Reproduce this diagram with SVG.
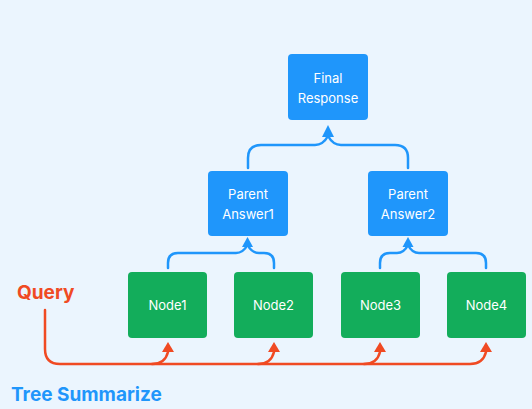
<svg xmlns="http://www.w3.org/2000/svg" width="532" height="409" viewBox="0 0 532 409">
<style>
.bg{fill:#EBF5FE}
.bn{fill:#1F96FB}
.gn{fill:#13AD5B}
.t{font-family:Inter,"Noto Sans",sans-serif;font-size:13px;fill:#fff;text-anchor:middle}
.bl{fill:none;stroke:#1F96FB;stroke-width:2.5;stroke-linecap:round}
.rd{fill:none;stroke:#F04A23;stroke-width:2.5;stroke-linecap:round}
.ba{fill:#1F96FB}
.ra{fill:#F04A23}
</style>
<rect class="bg" x="0" y="0" width="532" height="409"/>
<g id="connectors">
<path class="bl" d="M248,168 V158 Q248,145 261,145 H315 Q323,145 328,136"/>
<path class="bl" d="M408,168 V158 Q408,145 395,145 H341 Q333,145 328,136"/>
<polygon class="ba" points="328,125 322,137 334,137"/>
<path class="bl" d="M168,268 V263 Q168,253 178,253 H236 Q243,253 247.5,245"/>
<path class="bl" d="M274,268 V263 Q274,253 264,253 H259 Q252,253 247.5,245"/>
<polygon class="ba" points="247.5,237 242,247 253,247"/>
<path class="bl" d="M380,268 V263 Q380,253 390,253 H397 Q404,253 408,245"/>
<path class="bl" d="M486,268 V263 Q486,253 476,253 H419 Q412,253 408,245"/>
<polygon class="ba" points="408,237 402.5,247 413.5,247"/>
<path class="rd" d="M45,310 V349 Q45,364 60,364 H470 Q483,364 486,352"/>
<path class="rd" d="M152,364 Q165,364 168,352"/>
<path class="rd" d="M258,364 Q271,364 274,352"/>
<path class="rd" d="M364,364 Q377,364 380,352"/>
<polygon class="ra" points="168,342 162,352 174,352"/>
<polygon class="ra" points="274,342 268,352 280,352"/>
<polygon class="ra" points="380,342 374,352 386,352"/>
<polygon class="ra" points="486,342 480,352 492,352"/>
</g>
<g id="final">
<rect class="bn" x="288" y="54" width="80" height="66" rx="4"/>
<text class="t" x="328" y="83">Final</text>
<text class="t" x="328" y="103">Response</text>
</g>
<g id="parent1">
<rect class="bn" x="208" y="171" width="80" height="65" rx="4"/>
<text class="t" x="248" y="199">Parent</text>
<text class="t" x="248" y="219">Answer1</text>
</g>
<g id="parent2">
<rect class="bn" x="368" y="171" width="80" height="65" rx="4"/>
<text class="t" x="408" y="199">Parent</text>
<text class="t" x="408" y="219">Answer2</text>
</g>
<g id="node1">
<rect class="gn" x="128" y="272" width="79" height="66" rx="4"/>
<text class="t" x="167.5" y="310">Node1</text>
</g>
<g id="node2">
<rect class="gn" x="234" y="272" width="79" height="66" rx="4"/>
<text class="t" x="273.5" y="310">Node2</text>
</g>
<g id="node3">
<rect class="gn" x="341" y="272" width="79" height="66" rx="4"/>
<text class="t" x="380.5" y="310">Node3</text>
</g>
<g id="node4">
<rect class="gn" x="447" y="272" width="79" height="66" rx="4"/>
<text class="t" x="486.5" y="310">Node4</text>
</g>
<g id="query">
<text x="17" y="299" style="font-family:Inter,'Noto Sans',sans-serif;font-size:19px;font-weight:700;fill:#F04A23">Query</text>
</g>
<g id="title">
<text x="11" y="401" style="font-family:Inter,'Noto Sans',sans-serif;font-size:19px;font-weight:700;fill:#1F96FB">Tree Summarize</text>
</g>
</svg>
